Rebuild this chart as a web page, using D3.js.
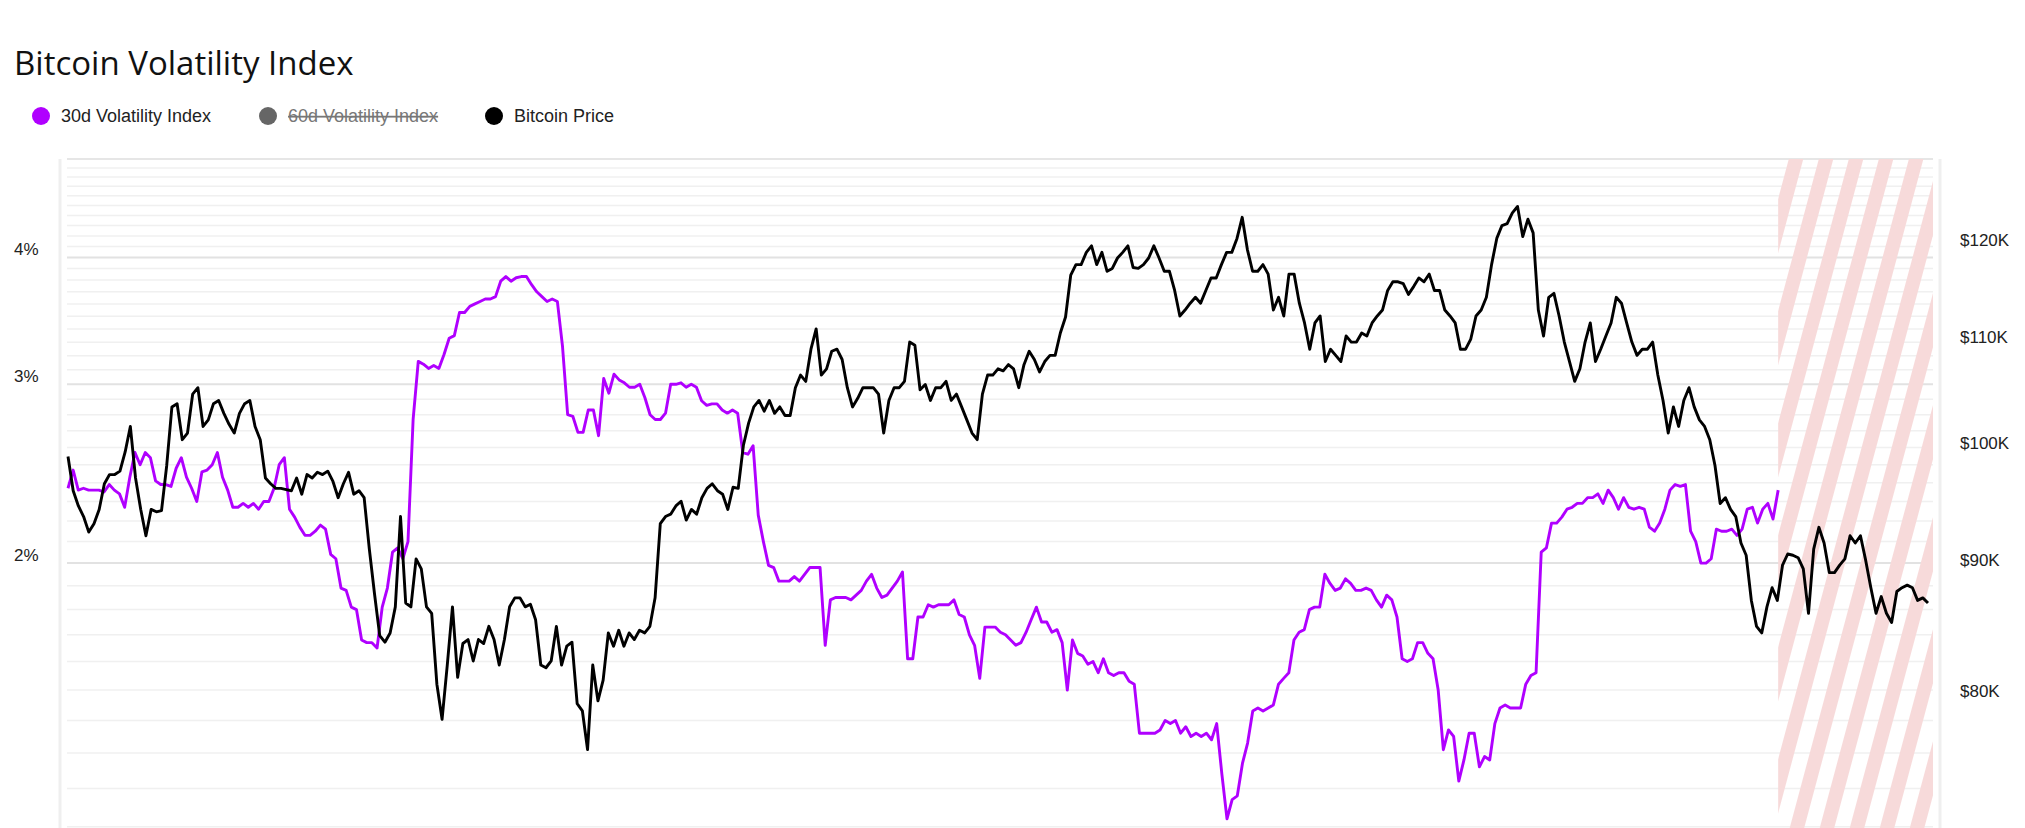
<!DOCTYPE html>
<html><head><meta charset="utf-8">
<script src="https://cdn.jsdelivr.net/npm/d3@7"></script>
<style>body{margin:0;background:#fff;font-family:"Liberation Sans",Arial,sans-serif;overflow:hidden}</style>
</head><body><svg id="c" width="2025" height="828"></svg>
<script>
const title = "Bitcoin Volatility Index";
const legendItems = ["30d Volatility Index","60d Volatility Index","Bitcoin Price"];
const volTicks = [2,3,4];
const priceTicks = [80,90,100,110,120];
const volDays = 331, priceDays = 360, forecastStartDay = 331;
const vol30 = [2.37,2.47,2.36,2.37,2.36,2.36,2.36,2.35,2.39,2.36,2.34,2.27,2.43,2.57,2.50,2.57,2.54,2.41,2.39,2.39,2.38,2.48,2.54,2.43,2.37,2.30,2.46,2.47,2.50,2.57,2.43,2.36,2.27,2.27,2.29,2.27,2.29,2.26,2.30,2.30,2.37,2.50,2.54,2.26,2.22,2.17,2.13,2.13,2.15,2.18,2.16,2.04,2.02,1.89,1.88,1.81,1.80,1.68,1.67,1.67,1.65,1.81,1.89,2.05,2.07,2.02,2.10,2.77,3.16,3.14,3.11,3.13,3.11,3.21,3.33,3.35,3.53,3.53,3.58,3.60,3.62,3.64,3.64,3.66,
3.79,3.83,3.79,3.82,3.83,3.83,3.76,3.70,3.66,3.62,3.64,3.62,3.27,2.80,2.79,2.69,2.69,2.83,2.83,2.67,3.04,2.94,3.07,3.03,3.01,2.98,2.98,3.00,2.91,2.80,2.77,2.77,2.81,3.00,3.00,3.01,2.98,3.00,2.98,2.89,2.86,2.87,2.87,2.83,2.81,2.83,2.81,2.57,2.56,2.61,2.23,2.10,1.99,1.98,1.92,1.92,1.92,1.94,1.92,1.95,1.98,1.98,1.98,1.66,1.84,1.85,1.85,1.85,1.84,1.86,1.88,1.92,1.95,1.89,1.85,1.86,1.89,1.92,1.96,1.61,1.61,1.77,1.77,1.82,1.81,1.82,1.82,1.82,1.84,1.78,1.77,1.70,1.66,1.54,1.73,1.73,1.73,1.71,1.70,1.68,1.66,1.67,1.71,1.76,1.81,1.75,1.75,1.71,1.72,1.67,1.50,1.68,1.63,1.62,1.59,1.60,1.56,1.61,1.56,1.55,1.56,1.56,1.53,1.52,1.36,1.36,1.36,1.36,1.37,1.40,1.39,1.40,1.36,1.38,1.35,1.36,1.35,1.36,1.34,1.39,1.24,1.12,1.17,1.18,1.27,1.33,1.43,1.44,1.43,1.44,1.45,1.52,1.54,1.56,1.68,1.71,1.72,1.80,1.81,1.81,1.95,1.91,1.88,1.89,1.93,1.91,1.88,1.88,1.89,1.88,1.84,1.81,1.86,1.84,1.77,1.61,1.60,1.61,1.67,1.67,1.63,1.61,1.50,1.31,1.37,1.35,1.22,1.28,1.36,1.36,1.26,1.29,1.28,1.39,1.44,1.45,1.44,1.44,1.44,1.52,1.55,1.56,2.05,2.07,2.19,2.19,2.22,2.26,2.27,2.29,2.29,2.32,2.32,2.34,2.29,2.36,2.32,2.26,2.32,2.27,2.26,2.27,2.26,2.17,2.15,2.19,2.26,2.36,2.39,2.38,2.39,2.15,2.10,2.00,2.00,2.02,2.16,2.15,2.15,2.16,2.13,2.16,2.26,2.27,2.19,2.26,2.29,2.21,2.36];
const btcPrice = [98.8,95.8,94.5,93.6,92.3,93.0,94.2,96.4,97.2,97.2,97.5,99.2,101.5,96.9,94.2,92.0,94.2,94.0,94.1,98.0,103.3,103.6,100.3,100.9,104.5,105.1,101.5,102.1,103.6,103.9,102.7,101.7,100.9,102.7,103.6,103.9,101.5,100.3,96.9,96.4,96.0,96.0,95.9,95.8,96.9,95.5,97.2,96.9,97.4,97.2,97.5,96.6,95.2,96.4,97.4,95.5,95.8,95.2,90.9,87.3,84.1,83.6,84.3,86.3,93.6,86.6,86.3,90.1,89.3,86.3,85.8,80.5,78.0,81.9,86.3,81.0,83.5,83.8,82.2,83.8,83.5,84.8,83.8,81.9,83.8,86.3,87.0,87.0,86.3,86.5,85.3,81.9,81.7,82.2,84.8,81.9,83.3,83.6,79.1,78.6,75.9,81.9,79.3,80.8,84.3,83.3,84.5,83.3,84.3,83.8,84.5,84.3,84.8,87.0,93.0,93.6,93.8,94.5,94.9,93.3,94.2,93.8,95.2,96.0,96.4,95.8,95.5,94.2,96.1,96.0,99.8,101.8,103.3,103.9,102.9,103.9,102.7,103.3,102.5,102.5,105.1,106.3,105.7,108.8,110.8,106.3,106.9,108.6,108.8,107.8,105.1,103.3,104.1,105.1,105.1,105.1,104.5,100.9,103.9,105.1,105.1,105.7,109.5,109.2,104.9,105.4,103.9,105.1,105.1,105.7,103.9,104.5,103.3,102.1,100.9,100.3,104.5,106.3,106.3,106.9,106.7,107.3,106.9,105.1,107.3,108.6,107.8,106.6,107.6,108.2,108.2,110.4,112.0,116.3,117.4,117.4,118.7,119.4,117.4,118.7,116.7,117.0,118.1,118.7,119.4,117.1,117.0,117.4,118.1,119.4,118.1,116.7,116.7,114.7,112.1,112.7,113.4,114.0,113.4,114.7,116.0,116.0,117.4,118.7,118.7,120.2,122.5,119.0,116.7,116.7,117.4,116.4,112.7,114.0,112.1,116.4,116.4,113.4,111.4,108.8,111.4,112.1,107.6,108.8,108.2,107.6,110.1,109.5,109.5,110.4,110.1,111.4,112.1,112.7,114.7,115.6,115.6,115.4,114.3,115.1,116.0,115.6,116.4,114.7,114.7,112.7,112.1,111.4,108.8,108.8,109.8,112.1,112.7,114.0,117.4,120.2,121.6,121.8,123.0,123.7,120.4,122.3,120.8,112.7,110.1,114.0,114.4,112.1,109.5,107.6,105.7,106.9,109.5,111.4,107.6,108.8,110.1,111.4,114.0,113.4,111.4,109.5,108.2,108.8,108.8,109.5,106.3,103.9,100.9,103.3,101.5,103.9,105.1,103.3,102.1,101.5,100.3,98.0,94.7,95.2,94.2,93.6,91.4,90.4,86.8,84.8,84.3,86.3,87.8,86.8,89.6,90.5,90.4,90.2,89.3,85.8,90.9,92.7,91.4,89.0,89.0,89.6,90.1,92.0,91.4,92.0,90.0,87.8,85.8,87.1,85.8,85.1,87.5,87.8,88.0,87.8,86.8,87.0,86.6];

const svg = d3.select("#c");
const L = 67, R = 1933, T = 159, B = 828;
const x = d3.scaleLinear().domain([0, priceDays]).range([L+1, R-5]);
const yV = d3.scaleLog().domain([1.097, 5.0]).range([B, T]);
const yP = d3.scaleLog().domain([100*Math.exp(-(828-443)/1112), 100*Math.exp((443-159)/1112)]).range([B, T]);

const grid = d3.range(11, 51).map(v => v/10);
svg.append("g").selectAll("line").data(grid).join("line")
  .attr("x1", L).attr("x2", R).attr("y1", d=>yV(d)).attr("y2", d=>yV(d))
  .attr("stroke", d => volTicks.includes(d) ? "#e2e2e2" : "#f0f0f0")
  .attr("stroke-width", d => volTicks.includes(d) ? 2 : 1.5);
svg.append("line").attr("x1",L).attr("x2",R).attr("y1",T).attr("y2",T).attr("stroke","#e6e6e6").attr("stroke-width",2);
svg.append("line").attr("x1",60).attr("x2",60).attr("y1",T).attr("y2",B).attr("stroke","#efefef").attr("stroke-width",3);
svg.append("line").attr("x1",1940).attr("x2",1940).attr("y1",T).attr("y2",B).attr("stroke","#efefef").attr("stroke-width",3);

const defs = svg.append("defs");
const pat = defs.append("pattern").attr("id","hatch").attr("patternUnits","userSpaceOnUse")
  .attr("width",29).attr("height",400).attr("patternTransform","rotate(15)");
pat.append("rect").attr("x",0).attr("y",0).attr("width",14).attr("height",400).attr("fill","#f7dada");
svg.append("rect").attr("x", x(forecastStartDay)).attr("y", T).attr("width", R - x(forecastStartDay)).attr("height", B-T)
  .attr("fill","url(#hatch)");

svg.append("g").selectAll("text").data(volTicks).join("text")
  .attr("x", 14).attr("y", d=>yV(d)-2).attr("font-size", 17).attr("fill","#222")
  .text(d=>d+"%");
svg.append("g").selectAll("text").data(priceTicks).join("text")
  .attr("x", 1960).attr("y", d=>yP(d)+6).attr("font-size", 17).attr("fill","#222")
  .text(d=>"$"+d+"K");

const volLine = d3.line().x((d,i)=>x(i*volDays/(vol30.length-1))).y(d=>yV(d));
const priceLine = d3.line().x((d,i)=>x(i*priceDays/(btcPrice.length-1))).y(d=>yP(d));
svg.append("path").datum(vol30).attr("d",volLine).attr("fill","none").attr("stroke","#b000ff").attr("stroke-width",2.9).attr("stroke-linejoin","round");
svg.append("path").datum(btcPrice).attr("d",priceLine).attr("fill","none").attr("stroke","#000").attr("stroke-width",2.9).attr("stroke-linejoin","round");

svg.append("text").attr("x",14).attr("y",75).attr("font-size",33).attr("fill","#111").attr("font-family","'Open Sans',sans-serif").text(title);
const lg = [{c:"#b000ff",x:41},{c:"#666",x:268,off:true},{c:"#000",x:494}];
lg.forEach((d,i)=>{
  svg.append("circle").attr("cx",d.x).attr("cy",116).attr("r",9).attr("fill",d.c);
  svg.append("text").attr("x",d.x+20).attr("y",122).attr("font-size",18)
    .attr("fill", d.off ? "#777" : "#222")
    .attr("text-decoration", d.off ? "line-through" : null).text(legendItems[i]);
});
</script></body></html>
